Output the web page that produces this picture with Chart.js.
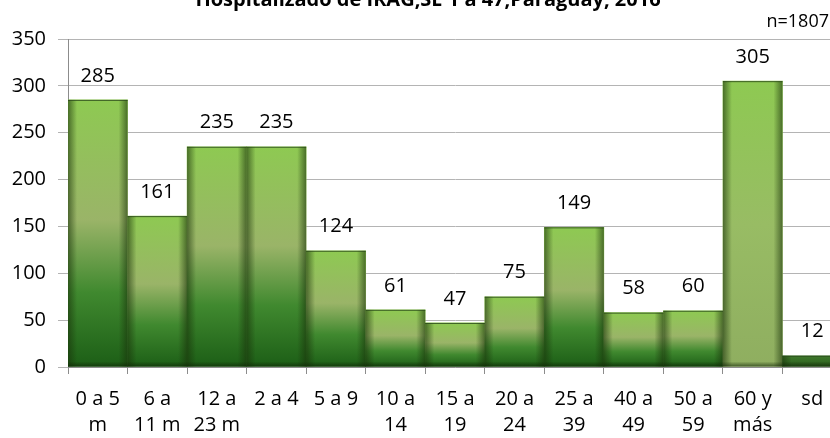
<!DOCTYPE html>
<html>
<head>
<meta charset="utf-8">
<script src="https://cdn.jsdelivr.net/npm/chart.js@4"></script>
<style>
  html, body { margin: 0; padding: 0; background: #fff; overflow: hidden; }
  #wrap { width: 842px; height: 438px; }
</style>
</head>
<body>
<div id="wrap"><canvas id="chart" width="842" height="438"></canvas></div>
<script>
// datos del gráfico
const categories = [['0 a 5', 'm'], ['6 a', '11 m'], ['12 a', '23 m'], ['2 a 4'], ['5 a 9'], ['10 a', '14'],
    ['15 a', '19'], ['20 a', '24'], ['25 a', '39'], ['40 a', '49'], ['50 a', '59'], ['60 y', 'más'], ['sd']];
const casos = [285, 161, 235, 235, 124, 61, 47, 75, 149, 58, 60, 305, 12];
const yTicks = [0, 50, 100, 150, 200, 250, 300, 350];
const titleText = 'Hospitalizado de IRAG,SE 1 a 47,Paraguay, 2016';
const nText = 'n=1807';

const FONT = '"Open Sans", sans-serif';

// gradiente vertical por barra (como el relleno de Excel)
function barFill(ctx) {
    const chart = ctx.chart;
    if (!chart.chartArea || !chart.scales.y) return '#5a9a3a';
    const y = chart.scales.y;
    const top = y.getPixelForValue(casos[ctx.dataIndex]);
    const bottom = y.getPixelForValue(0);
    const g = chart.ctx.createLinearGradient(0, top, 0, bottom);
    if (categories[ctx.dataIndex][0] === '60 y') {
        g.addColorStop(0, '#8ec952');
        g.addColorStop(0.5, '#98bc64');
        g.addColorStop(1, '#8fae60');
    } else if (casos[ctx.dataIndex] < 20) {
        g.addColorStop(0, '#3f7a2c');
        g.addColorStop(1, '#2a5c1c');
    } else {
        g.addColorStop(0, '#8ec952');
        g.addColorStop(0.45, '#9ab468');
        g.addColorStop(0.72, '#40892f');
        g.addColorStop(1, '#1c5e16');
    }
    return g;
}

// sombras laterales de las barras
const barShade = {
    id: 'barShade',
    afterDatasetsDraw(chart) {
        const c = chart.ctx;
        const meta = chart.getDatasetMeta(0);
        c.save();
        meta.data.forEach(bar => {
            const { x, y, base, width } = bar.getProps(['x', 'y', 'base', 'width'], true);
            const left = x - width / 2, right = x + width / 2, h = base - y;
            const w = 9;
            let g = c.createLinearGradient(left, 0, left + w, 0);
            g.addColorStop(0, 'rgba(25,50,10,0.6)');
            g.addColorStop(1, 'rgba(25,50,10,0)');
            c.fillStyle = g;
            c.fillRect(left, y, w, h);
            g = c.createLinearGradient(right, 0, right - w, 0);
            g.addColorStop(0, 'rgba(25,50,10,0.6)');
            g.addColorStop(1, 'rgba(25,50,10,0)');
            c.fillStyle = g;
            c.fillRect(right - w, y, w, h);
            const hb = Math.min(5, h / 2);
            g = c.createLinearGradient(0, base, 0, base - hb);
            g.addColorStop(0, 'rgba(15,35,5,0.6)');
            g.addColorStop(1, 'rgba(15,35,5,0)');
            c.fillStyle = g;
            c.fillRect(left, base - hb, width, hb);
            c.strokeStyle = 'rgba(40,70,25,0.8)';
            c.lineWidth = 1;
            c.beginPath();
            c.moveTo(left, y + 0.5);
            c.lineTo(right, y + 0.5);
            c.stroke();
        });
        c.restore();
    }
};

// etiquetas de valores
const valueLabels = {
    id: 'valueLabels',
    afterDatasetsDraw(chart) {
        const c = chart.ctx;
        const meta = chart.getDatasetMeta(0);
        c.save();
        c.font = '20px ' + FONT;
        c.fillStyle = '#000';
        c.textAlign = 'center';
        c.textBaseline = 'middle';
        meta.data.forEach((bar, i) => {
            c.fillText(String(casos[i]), bar.x, bar.y - 24);
        });
        c.restore();
    }
};

// título (cortado arriba) y n
const headerText = {
    id: 'headerText',
    afterDraw(chart) {
        const c = chart.ctx;
        c.save();
        c.fillStyle = '#000';
        c.textAlign = 'center';
        c.textBaseline = 'alphabetic';
        c.font = 'bold 20px ' + FONT;
        c.fillText(titleText, 428, 6);
        c.textAlign = 'right';
        c.font = '18px ' + FONT;
        c.fillText(nText, 829, 27);
        c.restore();
    }
};

const chart = new Chart(document.getElementById('chart'), {
    type: 'bar',
    data: {
        labels: categories,
        datasets: [{
            data: casos,
            backgroundColor: barFill,
            borderWidth: 0,
            barPercentage: 1,
            categoryPercentage: 1
        }]
    },
    options: {
        responsive: false,
        animation: false,
        devicePixelRatio: 1,
        layout: { padding: { top: 39, left: 0, right: 0, bottom: 0 } },
        plugins: {
            legend: { display: false },
            tooltip: { enabled: false }
        },
        scales: {
            x: {
                grid: { drawOnChartArea: false, drawTicks: true, tickLength: 7, color: '#8c8c8c' },
                border: { color: '#8c8c8c' },
                ticks: {
                    color: '#000',
                    font: { family: FONT, size: 20, lineHeight: 1.3 },
                    padding: 12,
                    maxRotation: 0,
                    autoSkip: false
                },
                afterFit(scale) { scale.height = 71; }
            },
            y: {
                min: 0,
                max: 350,
                afterBuildTicks(scale) { scale.ticks = yTicks.map(v => ({ value: v })); },
                grid: { color: '#b4b4b4', tickLength: 10 },
                border: { color: '#8c8c8c' },
                ticks: {
                    color: '#000',
                    font: { family: FONT, size: 20 },
                    padding: 12
                },
                afterFit(scale) { scale.width = 68; }
            }
        }
    },
    plugins: [barShade, valueLabels, headerText]
});
</script>
</body>
</html>
